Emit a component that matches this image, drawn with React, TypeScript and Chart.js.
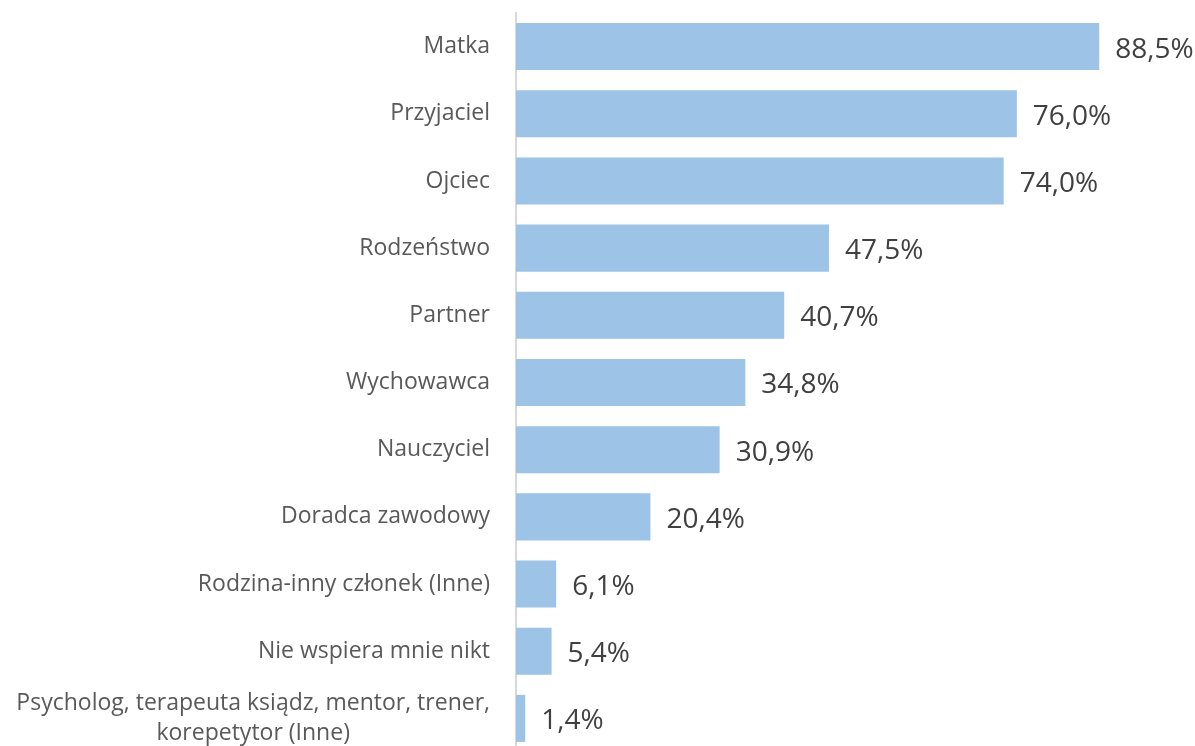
import React, { useEffect, useRef } from "react";
import { Chart, registerables } from "chart.js";

Chart.register(...registerables);

const categories: string[][] = [
  ["Matka"],
  ["Przyjaciel"],
  ["Ojciec"],
  ["Rodzeństwo"],
  ["Partner"],
  ["Wychowawca"],
  ["Nauczyciel"],
  ["Doradca zawodowy"],
  ["Rodzina-inny członek (Inne)"],
  ["Nie wspiera mnie nikt"],
  ["Psycholog, terapeuta ksiądz, mentor, trener,", "korepetytor (Inne)"],
];
const values: number[] = [88.5, 76.0, 74.0, 47.5, 40.7, 34.8, 30.9, 20.4, 6.1, 5.4, 1.4];
const valueLabels: string[] = ["88,5%", "76,0%", "74,0%", "47,5%", "40,7%", "34,8%", "30,9%", "20,4%", "6,1%", "5,4%", "1,4%"];

const FONT = "'Open Sans', 'Noto Sans', sans-serif";

const labelPlugin = {
  id: "customLabels",
  afterDatasetsDraw(chart: any) {
    const ctx = chart.ctx;
    const yScale = chart.scales.y;
    const meta = chart.getDatasetMeta(0);
    ctx.save();
    // category labels
    ctx.font = `23px ${FONT}`;
    ctx.fillStyle = "#595959";
    ctx.textBaseline = "middle";
    const rightX = yScale.right - 26;
    const lh = 30;
    categories.forEach((lines, i) => {
      const yc = yScale.getPixelForValue(i);
      const widest = Math.max(...lines.map((l) => ctx.measureText(l).width));
      const startY = yc - ((lines.length - 1) * lh) / 2;
      lines.forEach((line, j) => {
        if (lines.length === 1) {
          ctx.textAlign = "right";
          ctx.fillText(line, rightX, startY + j * lh);
        } else {
          ctx.textAlign = "center";
          ctx.fillText(line, rightX - widest / 2, startY + j * lh);
        }
      });
    });
    // value labels
    ctx.font = `28px ${FONT}`;
    ctx.fillStyle = "#404040";
    ctx.textAlign = "left";
    meta.data.forEach((bar: any, i: number) => {
      ctx.fillText(valueLabels[i], bar.x + 16, bar.y + 3);
    });
    ctx.restore();
  },
};

export default function App() {
  const ref = useRef<HTMLCanvasElement>(null);
  useEffect(() => {
    if (!ref.current) return;
    const chart = new Chart(ref.current, {
      type: "bar",
      data: {
        labels: categories.map((c) => c.join(" ")),
        datasets: [
          {
            data: values,
            backgroundColor: "#9DC3E6",
            borderWidth: 0,
            barPercentage: 0.7,
            categoryPercentage: 1,
          },
        ],
      },
      options: {
        indexAxis: "y",
        animation: false,
        responsive: false,
        maintainAspectRatio: false,
        layout: { padding: { top: 13, bottom: 8, right: 20, left: 0 } },
        plugins: { legend: { display: false }, tooltip: { enabled: false } },
        scales: {
          x: { display: false, min: 0, max: 100 },
          y: {
            afterFit: (scale: any) => {
              scale.width = 516;
            },
            grid: { display: false, drawTicks: false },
            border: { display: true, color: "#D9D9D9", width: 2 },
            ticks: { display: false },
          },
        },
      },
      plugins: [labelPlugin],
    });
    return () => chart.destroy();
  }, []);
  return (
    <div style={{ position: "fixed", left: 0, top: 0, width: 1195, height: 760, background: "#fff" }}>
      <canvas ref={ref} width={1195} height={760} style={{ display: "block" }} />
    </div>
  );
}
